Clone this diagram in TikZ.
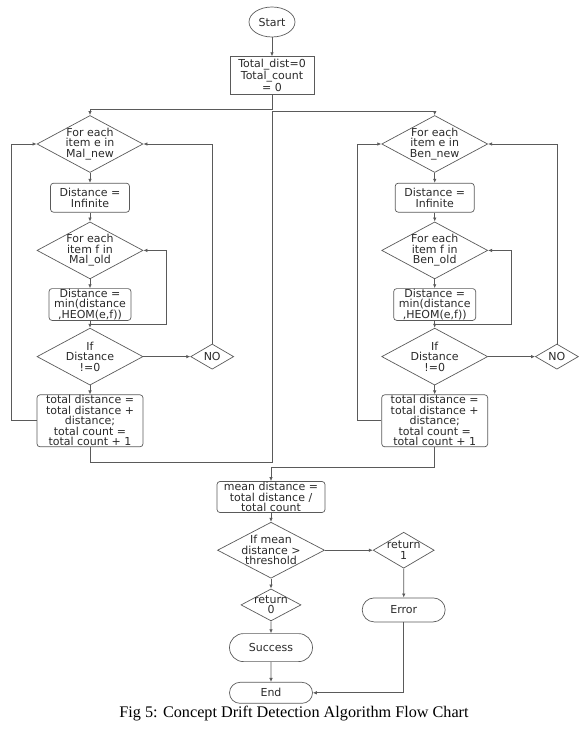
\documentclass[tikz,border=0pt]{standalone}
\usepackage{fontspec}
\setmainfont{Liberation Serif}
\newfontfamily\chartfont{DejaVu Sans}
\usetikzlibrary{positioning,arrows.meta,calc,shapes.geometric,shapes.misc}
\definecolor{lineGray}{HTML}{5a5a5a}
\definecolor{textGray}{HTML}{2a2a2a}

\begin{document}
\begin{tikzpicture}[
  x=1pt, y=1pt,
  font=\chartfont\fontsize{11}{10.5}\selectfont,
  every node/.style={text=textGray},
  startbox/.style={draw=lineGray, line width=0.7pt, ellipse, minimum width=46pt, minimum height=30pt, inner sep=0pt},
  initbox/.style ={draw=lineGray, line width=0.7pt, minimum width=84pt, minimum height=38pt, inner sep=1pt, align=center},
  proc/.style    ={draw=lineGray, line width=0.7pt, rounded corners=3pt, inner sep=0.5pt, align=center},
  dec/.style     ={draw=lineGray, line width=0.7pt, diamond, aspect=1.86, minimum width=106pt, minimum height=57pt, inner sep=-3pt, align=center},
  retbox/.style  ={draw=lineGray, line width=0.7pt, diamond, inner sep=-5pt, align=center},
  nobox/.style   ={draw=lineGray, line width=0.7pt, diamond, minimum width=43pt, minimum height=17pt, inner sep=0pt},
  term/.style    ={draw=lineGray, line width=0.7pt, rounded rectangle, minimum width=85pt, inner sep=1pt},
  arr/.style     ={-{Latex[length=4pt,width=3.5pt]}, draw=lineGray, line width=0.7pt},
]
\useasboundingbox (0,0) rectangle (586,-738);

% ==================== TOP: start / init ====================
\node[startbox] (start) at (272,-22) {Start};
\node[initbox, below=19pt of start] (init) {Total\_dist=0\\Total\_count\\= 0};

% ==================== LEFT: Mal loop ====================
\node[dec] (mfor) at (90,-144) {For each\\item e in\\Mal\_new};
\node[proc, minimum width=79pt, minimum height=29pt, below=10pt of mfor] (minf) {Distance =\\Infinite};
\node[dec, below=9pt of minf] (mloop) {For each\\item f in\\Mal\_old};
\node[proc, minimum width=82pt, minimum height=31pt, below=9pt of mloop] (mmin) {Distance =\\min(distance\\,HEOM(e,f))};
\node[dec, below=7pt of mmin] (mif) {If\\Distance\\!=0};
\node[proc, minimum width=106pt, minimum height=52pt, below=9pt of mif] (mtot) {total distance =\\total distance +\\distance;\\total count =\\total count + 1};
\node[nobox, right=47pt of mif] (mno) {NO};

% ==================== RIGHT: Ben loop ====================
\node[dec, right=238pt of mfor] (bfor) {For each\\item e in\\Ben\_new};
\node[proc, minimum width=79pt, minimum height=29pt, below=10pt of bfor] (binf) {Distance =\\Infinite};
\node[dec, below=9pt of binf] (bloop) {For each\\item f in\\Ben\_old};
\node[proc, minimum width=82pt, minimum height=31pt, below=9pt of bloop] (bmin) {Distance =\\min(distance\\,HEOM(e,f))};
\node[dec, below=7pt of bmin] (bif) {If\\Distance\\!=0};
\node[proc, minimum width=106pt, minimum height=52pt, below=9pt of bif] (btot) {total distance =\\total distance +\\distance;\\total count =\\total count + 1};
\node[nobox, right=47pt of bif] (bno) {NO};

% ==================== BOTTOM: threshold test ====================
\node[proc, minimum width=108pt, minimum height=31pt] (mean) at (271,-497) {mean distance =\\total distance /\\total count};
\node[dec, minimum width=107pt, minimum height=56pt, aspect=1.91, below=9pt of mean] (ifmean) {If mean\\distance >\\threshold};
\node[retbox, minimum width=61pt, minimum height=36pt, right=48pt of ifmean] (ret1) {return\\1};
\node[term, minimum height=24pt, below=29pt of ret1] (err) {Error};
\node[retbox, minimum width=60pt, minimum height=30pt, below=10pt of ifmean] (ret0) {return\\0};
\node[term, minimum height=28pt, below=12pt of ret0] (succ) {Success};
\node[term, minimum height=21pt, below=20pt of succ] (stop) {End};

\node[font=\rmfamily\fontsize{16.2}{19}\selectfont, text=black] (cap) at (294,-714) {Fig 5: Concept Drift Detection Algorithm Flow Chart};

% Arrows
\draw[arr] (start) -- (init);
\draw[arr] (init.south) -- ++(0,-14) -| (mfor.north);

% left column
\draw[arr] (mfor) -- (minf);
\draw[arr] (minf) -- (mloop);
\draw[arr] (mloop) -- (mmin);
\draw[arr] (mmin) -- (mif);
\draw[arr] (mif) -- (mtot);
\draw[arr] (mif) -- (mno);
\draw[arr] (mno.north) |- (mfor.east);
\draw[arr] ($(mmin.south)!.5!(mif.north)$) -- ++(76,0) |- (mloop.east);
\draw[arr] (mtot.west) -- ++(-25,0) |- (mfor.west);
\draw[arr] (mtot.south) -- ++(0,-15) -- ++(182,0) |- ([yshift=4pt]bfor.north) -- (bfor.north);

% right column
\draw[arr] (bfor) -- (binf);
\draw[arr] (binf) -- (bloop);
\draw[arr] (bloop) -- (bmin);
\draw[arr] (bmin) -- (bif);
\draw[arr] (bif) -- (btot);
\draw[arr] (bif) -- (bno);
\draw[arr] (bno.north) |- (bfor.east);
\draw[arr] ($(bmin.south)!.5!(bif.north)$) -- ++(77,0) |- (bloop.east);
\draw[arr] (btot.west) -- ++(-24,0) |- (bfor.west);
\draw[arr] (btot.south) -- ++(0,-20) -| (mean.north);

% bottom
\draw[arr] (mean) -- (ifmean);
\draw[arr] (ifmean) -- (ret1);
\draw[arr] (ret1) -- (err);
\draw[arr] (ifmean) -- (ret0);
\draw[arr] (ret0) -- (succ);
\draw[arr] (succ) -- (stop);
\draw[arr] (err.south) |- (stop.east);

\end{tikzpicture}
\end{document}
